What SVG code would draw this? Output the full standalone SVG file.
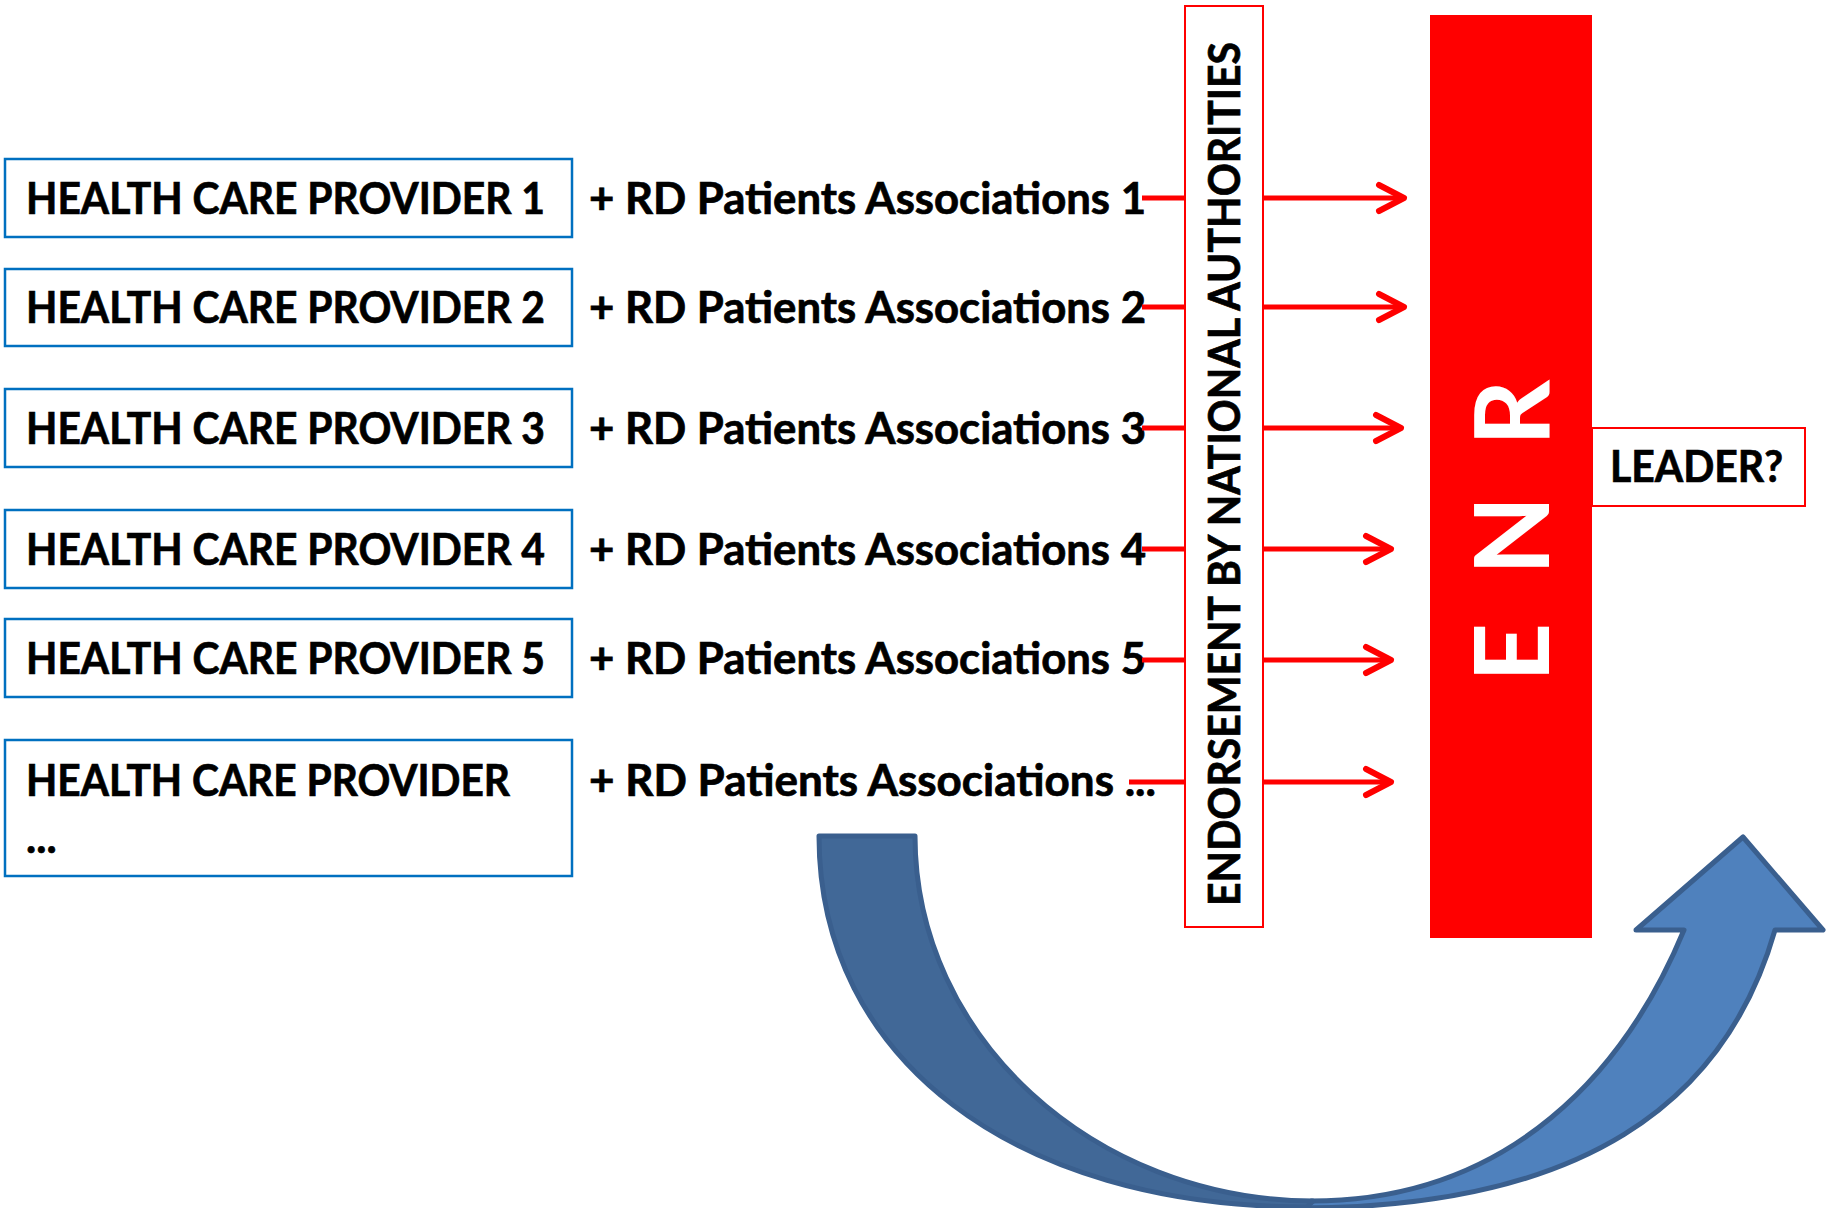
<svg xmlns="http://www.w3.org/2000/svg" width="1831" height="1208" viewBox="0 0 1831 1208">
  <style>
    .prov rect { fill: #FFFFFF; stroke: #0070C0; stroke-width: 2.5; }
    .lbl { font-family: Lato, "Open Sans", "Liberation Sans", sans-serif; font-weight: 700; font-size: 43px; fill: #000000; stroke: #000000; stroke-width: 0.7; }
    .wire { fill: none; stroke: #FF0000; stroke-width: 5; }
    .redbox { fill: #FFFFFF; stroke: #FF0000; stroke-width: 2; }
    .band { stroke: #3A5F8E; stroke-width: 5; stroke-linejoin: round; }
  </style>
  <defs>
    <marker id="chev" markerUnits="userSpaceOnUse" markerWidth="40" markerHeight="40" viewBox="-32 -20 40 40" refX="0" refY="0" orient="auto" overflow="visible">
      <path d="M-25,-13 L0,0 L-25,13" fill="none" stroke="#FF0000" stroke-width="6" stroke-linecap="round" stroke-linejoin="round"/>
    </marker>
  </defs>

  <rect width="1831" height="1208" fill="#FFFFFF"/>

  <!-- care providers with their patient associations -->
  <g id="provider-1" class="prov">
    <rect x="5" y="159" width="567" height="78"/>
    <text class="lbl" x="26" y="214" textLength="519" lengthAdjust="spacingAndGlyphs">HEALTH CARE PROVIDER 1</text>
    <text class="lbl" x="589" y="214" textLength="557" lengthAdjust="spacingAndGlyphs">+ RD Patients Associations 1</text>
  </g>
  <g id="provider-2" class="prov">
    <rect x="5" y="269" width="567" height="77"/>
    <text class="lbl" x="26" y="323" textLength="519" lengthAdjust="spacingAndGlyphs">HEALTH CARE PROVIDER 2</text>
    <text class="lbl" x="589" y="323" textLength="557" lengthAdjust="spacingAndGlyphs">+ RD Patients Associations 2</text>
  </g>
  <g id="provider-3" class="prov">
    <rect x="5" y="389" width="567" height="78"/>
    <text class="lbl" x="26" y="444" textLength="519" lengthAdjust="spacingAndGlyphs">HEALTH CARE PROVIDER 3</text>
    <text class="lbl" x="589" y="444" textLength="557" lengthAdjust="spacingAndGlyphs">+ RD Patients Associations 3</text>
  </g>
  <g id="provider-4" class="prov">
    <rect x="5" y="510" width="567" height="78"/>
    <text class="lbl" x="26" y="565" textLength="519" lengthAdjust="spacingAndGlyphs">HEALTH CARE PROVIDER 4</text>
    <text class="lbl" x="589" y="565" textLength="557" lengthAdjust="spacingAndGlyphs">+ RD Patients Associations 4</text>
  </g>
  <g id="provider-5" class="prov">
    <rect x="5" y="619" width="567" height="78"/>
    <text class="lbl" x="26" y="674" textLength="519" lengthAdjust="spacingAndGlyphs">HEALTH CARE PROVIDER 5</text>
    <text class="lbl" x="589" y="674" textLength="557" lengthAdjust="spacingAndGlyphs">+ RD Patients Associations 5</text>
  </g>
  <g id="provider-n" class="prov">
    <rect x="5" y="740" width="567" height="136"/>
    <text class="lbl" x="26" y="796" textLength="484" lengthAdjust="spacingAndGlyphs">HEALTH CARE PROVIDER</text>
    <text class="lbl" x="26" y="853">...</text>
    <text class="lbl" x="589" y="796" textLength="567" lengthAdjust="spacingAndGlyphs">+ RD Patients Associations ...</text>
  </g>

  <!-- red arrows running through the endorsement bar into ENR -->
  <g id="connectors">
    <path class="wire" d="M1142,198 H1404" marker-end="url(#chev)"/>
    <path class="wire" d="M1142,307 H1404" marker-end="url(#chev)"/>
    <path class="wire" d="M1142,428 H1401" marker-end="url(#chev)"/>
    <path class="wire" d="M1142,549 H1391" marker-end="url(#chev)"/>
    <path class="wire" d="M1142,660 H1391" marker-end="url(#chev)"/>
    <path class="wire" d="M1129,782 H1391" marker-end="url(#chev)"/>
  </g>

  <!-- endorsement bar -->
  <g id="endorsement">
    <rect class="redbox" x="1185" y="6" width="78" height="921"/>
    <text class="lbl" transform="translate(1240,906) rotate(-90)" x="0" y="0" textLength="864" lengthAdjust="spacingAndGlyphs">ENDORSEMENT BY NATIONAL AUTHORITIES</text>
  </g>

  <!-- ENR column -->
  <g id="enr">
    <rect x="1430" y="15" width="162" height="923" fill="#FF0000"/>
    <text transform="translate(1549,682) rotate(-90)" x="0 60 107 180 236" y="0" font-family="Lato, 'Open Sans', 'Liberation Sans', sans-serif" font-weight="700" font-size="103" fill="#FFFFFF">E N R</text>
  </g>

  <!-- leader label -->
  <g id="leader">
    <rect class="redbox" x="1592" y="428" width="213" height="78"/>
    <text class="lbl" x="1610" y="482" textLength="173" lengthAdjust="spacingAndGlyphs">LEADER?</text>
  </g>

  <!-- U-turn arrow under the diagram -->
  <g id="cycle-arrow">
    <path class="band" fill="#4F81BD" d="M1311,1201 C1511,1201 1626,1070 1684,930 L1636,930 L1743,837 L1823,930 L1775,930 C1725,1105 1580,1208 1300,1208 Z"/>
    <path class="band" fill="#416897" d="M819,836 L915,836 C915,1037 1093,1200 1313,1201 L1307,1207 C1014,1207 819,1059 819,836 Z"/>
  </g>
</svg>
